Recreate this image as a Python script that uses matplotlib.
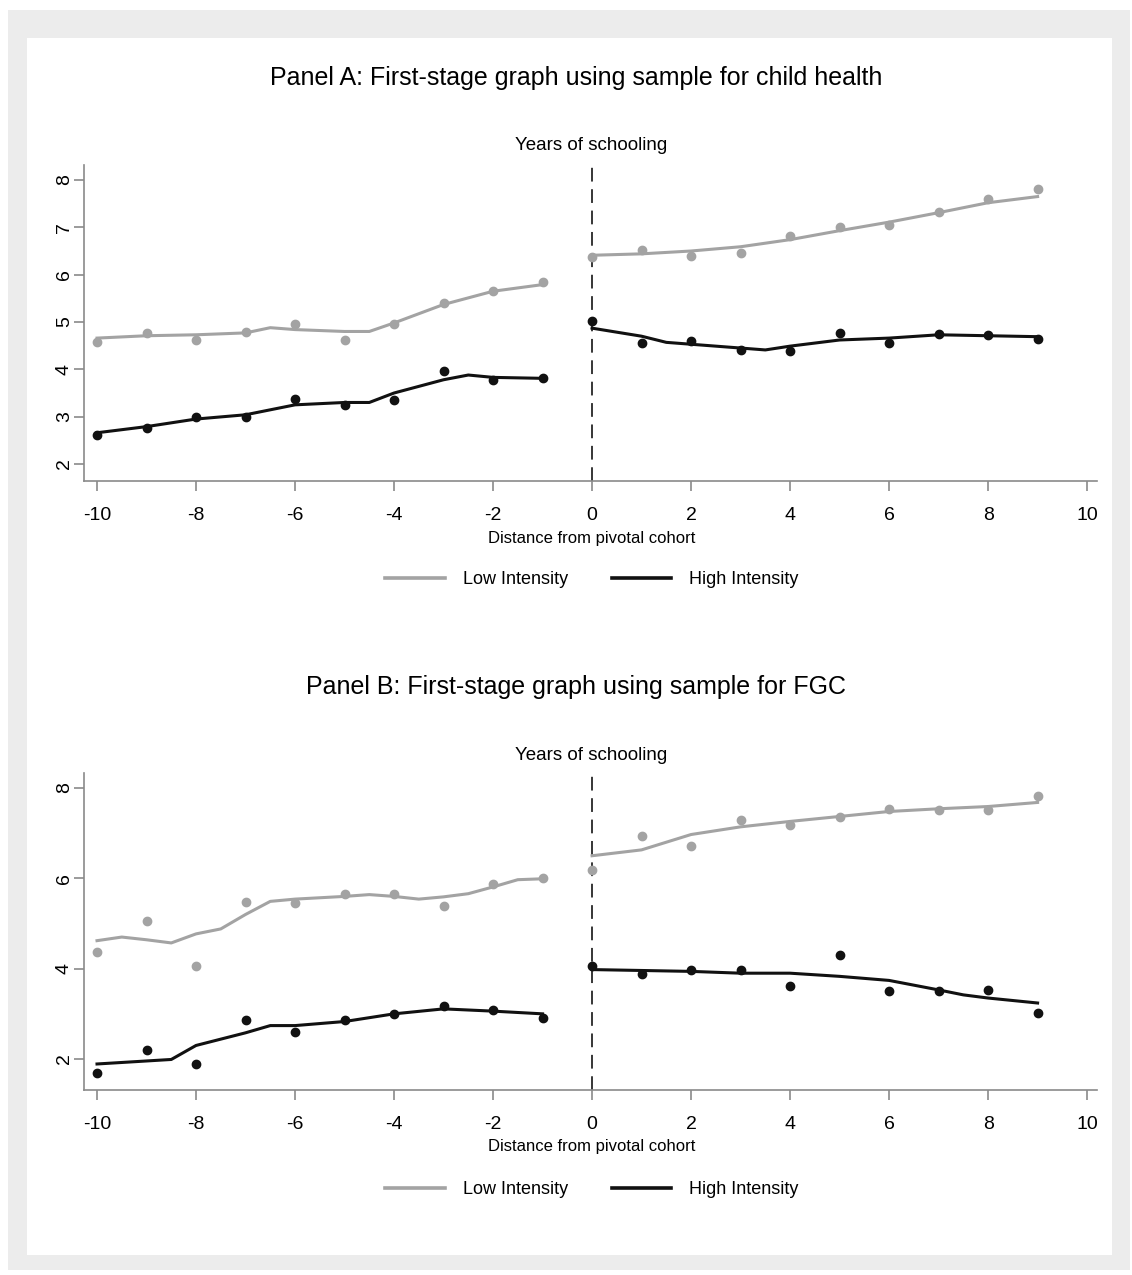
import matplotlib.pyplot as plt
from matplotlib.patches import Rectangle

plt.rcParams['font.family'] = ['Liberation Sans Narrow', 'Liberation Sans', 'DejaVu Sans']
plt.rcParams['axes.unicode_minus'] = False

# cohort distance and binned means
x_left = [-10, -9, -8, -7, -6, -5, -4, -3, -2, -1]
x_right = [0, 1, 2, 3, 4, 5, 6, 7, 8, 9]

# Panel A: child health sample
a_low_left = [4.57, 4.77, 4.63, 4.78, 4.96, 4.63, 4.96, 5.40, 5.66, 5.84]
a_high_left = [2.61, 2.77, 2.99, 3.00, 3.37, 3.25, 3.36, 3.96, 3.78, 3.81]
a_low_right = [6.37, 6.52, 6.39, 6.45, 6.81, 7.00, 7.05, 7.33, 7.60, 7.80]
a_high_right = [5.03, 4.56, 4.59, 4.41, 4.38, 4.77, 4.56, 4.75, 4.73, 4.65]

# smoothed (lowess) lines for panel A
a_fit_x_low_left = [-10, -9, -8, -7, -6.5, -6, -5, -4.5, -4, -3, -2, -1]
a_fit_low_left = [4.66, 4.71, 4.73, 4.77, 4.88, 4.84, 4.80, 4.80, 4.98, 5.37, 5.65, 5.79]
a_fit_x_high_left = [-10, -9, -8, -7, -6, -5, -4.5, -4, -3, -2.5, -2, -1]
a_fit_high_left = [2.66, 2.79, 2.95, 3.04, 3.25, 3.30, 3.30, 3.50, 3.78, 3.88, 3.83, 3.81]
a_fit_x_low_right = [0, 1, 2, 3, 4, 5, 6, 7, 8, 9]
a_fit_low_right = [6.41, 6.44, 6.50, 6.59, 6.74, 6.93, 7.11, 7.31, 7.52, 7.65]
a_fit_x_high_right = [0, 1, 1.5, 2, 3, 3.5, 4, 5, 6, 7, 8, 9]
a_fit_high_right = [4.87, 4.70, 4.57, 4.53, 4.45, 4.41, 4.49, 4.62, 4.66, 4.73, 4.71, 4.69]

# Panel B: FGC sample
b_low_left = [4.38, 5.05, 4.07, 5.47, 5.45, 5.66, 5.66, 5.39, 5.87, 6.01]
b_high_left = [1.69, 2.21, 1.88, 2.87, 2.59, 2.87, 3.00, 3.18, 3.09, 2.91]
b_low_right = [6.19, 6.94, 6.72, 7.30, 7.17, 7.36, 7.54, 7.52, 7.51, 7.82]
b_high_right = [4.05, 3.89, 3.98, 3.96, 3.62, 4.31, 3.50, 3.50, 3.53, 3.02]

b_fit_x_low_left = [-10, -9.5, -9, -8.5, -8, -7.5, -7, -6.5, -6, -5, -4.5, -4, -3.5, -3, -2.5, -2, -1.5, -1]
b_fit_low_left = [4.62, 4.70, 4.64, 4.57, 4.77, 4.88, 5.20, 5.49, 5.54, 5.60, 5.64, 5.60, 5.54, 5.59, 5.66, 5.81, 5.97, 5.99]
b_fit_x_high_left = [-10, -8.5, -8, -7, -6.5, -6, -5, -4, -3, -2, -1]
b_fit_high_left = [1.89, 1.99, 2.30, 2.58, 2.74, 2.74, 2.83, 3.00, 3.11, 3.06, 3.00]
b_fit_x_low_right = [0, 1, 1.5, 2, 3, 4, 5, 6, 7, 8, 9]
b_fit_low_right = [6.50, 6.63, 6.80, 6.97, 7.14, 7.26, 7.37, 7.48, 7.54, 7.59, 7.68]
b_fit_x_high_right = [0, 1, 2, 3, 4, 5, 6, 7, 7.5, 8, 9]
b_fit_high_right = [3.98, 3.96, 3.94, 3.90, 3.90, 3.83, 3.74, 3.53, 3.42, 3.35, 3.24]

low_col = '#a3a3a3'
high_col = '#111111'
spine_col = '#8a8a8a'

fig = plt.figure(figsize=(11.32, 12.75), dpi=100)
fig.patches.append(Rectangle((8 / 1132, 1 - 1270 / 1275), 1122 / 1132, 1260 / 1275,
                             transform=fig.transFigure, facecolor='#ececec', edgecolor='none', zorder=-10))
fig.patches.append(Rectangle((27 / 1132, 1 - 1255 / 1275), 1085 / 1132, 1217 / 1275,
                             transform=fig.transFigure, facecolor='white', edgecolor='none', zorder=-9))


def panel(rect, ylim, yticks, pts, fits, title, title_y, sub_y, lab_y, leg_y):
    ax = fig.add_axes(rect)
    ax.set_facecolor('none')
    low_l, high_l, low_r, high_r = pts
    for xs, ys in [(x_left, low_l), (x_right, low_r)]:
        ax.plot(xs, ys, linestyle='none', marker='o', ms=6, color=low_col, zorder=3)
    for xs, ys in [(x_left, high_l), (x_right, high_r)]:
        ax.plot(xs, ys, linestyle='none', marker='o', ms=6, color=high_col, zorder=4)
    (flx, fl), (fhx, fh), (frx, fr), (fhrx, fhr) = fits
    ax.plot(flx, fl, color=low_col, lw=2.2, zorder=3)
    ax.plot(frx, fr, color=low_col, lw=2.2, zorder=3)
    ax.plot(fhx, fh, color=high_col, lw=2.2, zorder=4)
    ax.plot(fhrx, fhr, color=high_col, lw=2.2, zorder=4)
    ax.axvline(0, color='black', lw=1.1, dashes=(9, 5), zorder=2)
    ax.set_xlim(-10.263, 10.2)
    ax.set_ylim(*ylim)
    ax.set_xticks(range(-10, 11, 2))
    ax.set_yticks(yticks)
    ax.tick_params(axis='both', colors=spine_col, length=7, width=1.2, labelsize=14, labelcolor='black')
    ax.tick_params(axis='x', pad=12)
    ax.tick_params(axis='y', pad=1)
    for lab in ax.get_yticklabels():
        lab.set_rotation(90)
        lab.set_va('center')
    for s in ['top', 'right']:
        ax.spines[s].set_visible(False)
    for s in ['left', 'bottom']:
        ax.spines[s].set_color(spine_col)
        ax.spines[s].set_linewidth(1.2)
    fig.text(592 / 1132, 1 - lab_y / 1275, 'Distance from pivotal cohort', ha='center', va='center', fontsize=12)
    fig.text(576 / 1132, 1 - title_y / 1275, title, ha='center', va='center', fontsize=18)
    fig.text(591 / 1132, 1 - sub_y / 1275, 'Years of schooling', ha='center', va='center', fontsize=13.5)
    h1, = ax.plot([], [], color=low_col, lw=2.6, label='Low Intensity')
    h2, = ax.plot([], [], color=high_col, lw=2.6, label='High Intensity')
    fig.legend(handles=[h1, h2], ncol=2, loc='center', bbox_to_anchor=(592 / 1132, 1 - leg_y / 1275),
               frameon=False, fontsize=13, handlelength=3.3, columnspacing=2.4, handletextpad=1.0)
    return ax


panel([84 / 1132, 1 - 481 / 1275, 1013 / 1132, 316 / 1275], (1.641, 8.317), range(2, 9),
      (a_low_left, a_high_left, a_low_right, a_high_right),
      ((a_fit_x_low_left, a_fit_low_left), (a_fit_x_high_left, a_fit_high_left),
       (a_fit_x_low_right, a_fit_low_right), (a_fit_x_high_right, a_fit_high_right)),
      'Panel A: First-stage graph using sample for child health', 78, 145, 539, 580)

panel([84 / 1132, 1 - 1090 / 1275, 1013 / 1132, 317 / 1275], (1.314, 8.332), [2, 4, 6, 8],
      (b_low_left, b_high_left, b_low_right, b_high_right),
      ((b_fit_x_low_left, b_fit_low_left), (b_fit_x_high_left, b_fit_high_left),
       (b_fit_x_low_right, b_fit_low_right), (b_fit_x_high_right, b_fit_high_right)),
      'Panel B: First-stage graph using sample for FGC', 687, 755, 1147, 1190)

fig.savefig('out.png', dpi=100)
